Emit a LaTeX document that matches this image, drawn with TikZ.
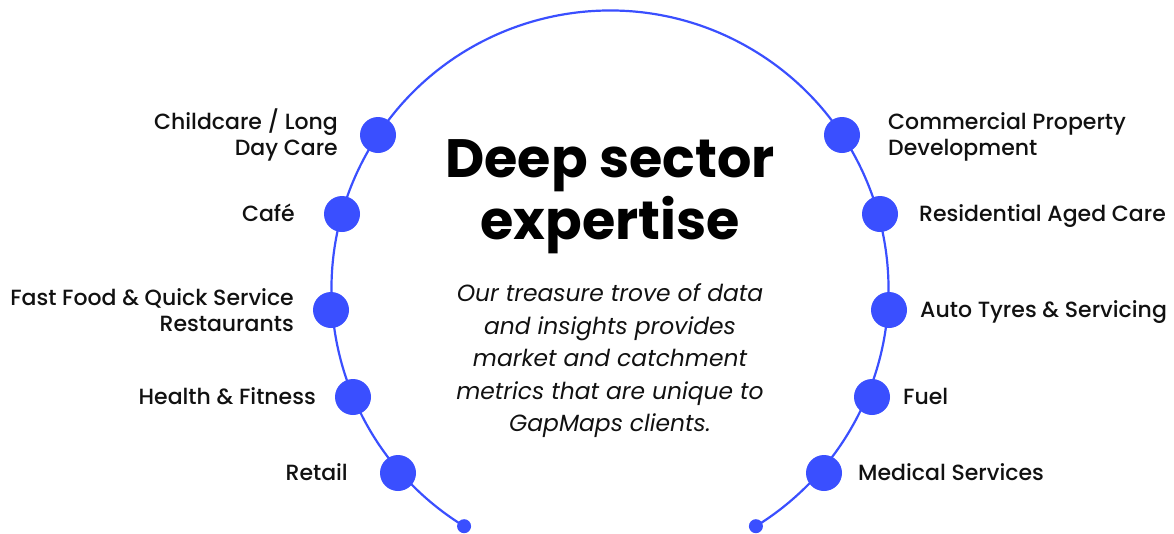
\documentclass[tikz,border=0pt]{standalone}
\usepackage{fontspec}
\usetikzlibrary{calc}
\setmainfont{Poppins}
\newfontfamily\medfont{Poppins}[UprightFont=* Medium, BoldFont=* SemiBold]
\definecolor{gmblue}{HTML}{3A4FFF}
\definecolor{ink}{HTML}{111111}
\begin{document}
\begin{tikzpicture}[x=1pt,y=-1pt,
  dot/.style={circle,fill=gmblue,inner sep=0pt,minimum size=36pt},
  enddot/.style={circle,fill=gmblue,inner sep=0pt,minimum size=14pt},
  lbl/.style={inner sep=0pt,text=ink,font=\medfont\fontsize{22}{26}\selectfont},
  lleft/.style={lbl,anchor=base east,align=right},
  lright/.style={lbl,anchor=base west,align=left},
  lleftm/.style={lbl,anchor=east,align=right},
  lrightm/.style={lbl,anchor=west,align=left}]
\useasboundingbox (0,0) rectangle (1174,533);
\coordinate (c) at (610,289);
% arc
\draw[gmblue,line width=2.2pt] (c) ++(121.6:278.5) arc[start angle=121.6,end angle=418.2,radius=278.5];
% end dots
\node[enddot] (e1) at ($(c)+(121.6:278.5)$) {};
\node[enddot] (e2) at ($(c)+(58.4:278.5)$) {};
% dots left
\node[dot] (d1) at (378,135) {};
\node[dot] (d2) at (342,214) {};
\node[dot] (d3) at (331,310) {};
\node[dot] (d4) at (353,397) {};
\node[dot] (d5) at (398,473) {};
% dots right
\node[dot] (r1) at (842,135) {};
\node[dot] (r2) at (880,214) {};
\node[dot] (r3) at (889,310) {};
\node[dot] (r4) at (872,397) {};
\node[dot] (r5) at (824,473) {};
% left labels
\node[lleftm] (l1) at (338,135) {Childcare / Long\\Day Care};
\node[lleft] (l2) at (295,221.5) {Café};
\node[lleftm] (l3) at (294,310) {Fast Food \& Quick Service\\Restaurants};
\node[lleft] (l4) at (316,404.5) {Health \& Fitness};
\node[lleft] (l5) at (348,480.5) {Retail};
% right labels
\node[lrightm] (m1) at (888,137) {Commercial Property\\Development};
\node[lright] (m2) at (919,221.5) {Residential Aged Care};
\node[lright] (m3) at (920,317.5) {Auto Tyres \& Servicing};
\node[lright] (m4) at (903,404.5) {Fuel};
\node[lright] (m5) at (858,480.5) {Medical Services};
% centre text
\node[inner sep=0pt,align=center,text=black,font=\bfseries\fontsize{54}{62}\selectfont] (title) at (610,197) {Deep sector\\expertise};
\node[inner sep=0pt,align=center,text=ink,font=\itshape\fontsize{23.4}{32.5}\selectfont] (body) at (610,361) {Our treasure trove of data\\and insights provides\\market and catchment\\metrics that are unique to\\GapMaps clients.};
\end{tikzpicture}
\end{document}
